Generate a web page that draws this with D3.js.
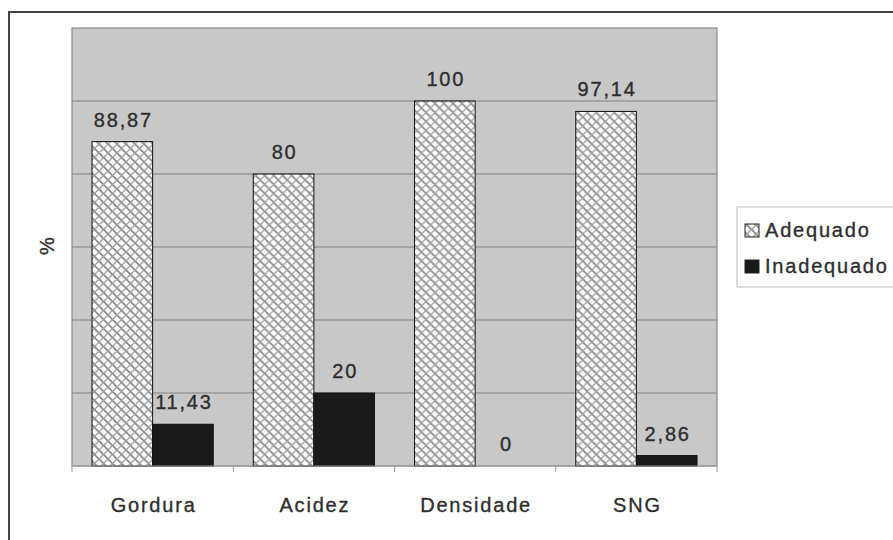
<!DOCTYPE html>
<html><head><meta charset="utf-8">
<script src="https://cdn.jsdelivr.net/npm/d3@7"></script>
<style>body{margin:0;background:#fff}svg{display:block}text{font-family:"Liberation Sans",Arial,sans-serif;fill:#2e2e2e;stroke:#2e2e2e;stroke-width:0.35}</style>
</head><body>
<svg id="c" width="893" height="540"></svg>
<script>
const categories = ["Gordura","Acidez","Densidade","SNG"];
const seriesNames = ["Adequado","Inadequado"];
const adequado = [88.87, 80, 100, 97.14];
const inadequado = [11.43, 20, 0, 2.86];
const valueLabels = [["88,87","80","100","97,14"],["11,43","20","0","2,86"]];
const yTicks = [0,20,40,60,80,100,120];

const svg = d3.select("#c");
const defs = svg.append("defs");
const pat = defs.append("pattern").attr("id","hatch").attr("patternUnits","userSpaceOnUse")
  .attr("width",9).attr("height",9);
pat.append("rect").attr("width",9).attr("height",9).attr("fill","#fdfdfd");
pat.append("path").attr("d","M-2,-2 L11,11 M-2,7 L2,11 M7,-2 L11,2").attr("stroke","#8c8c8c").attr("stroke-width",1.8);
pat.append("path").attr("d","M-1,10 L10,-1 M-1,1 L1,-1 M8,10 L10,8").attr("stroke","#a0a0a0").attr("stroke-width",1.3);

// outer frame
svg.append("path").attr("d","M9,540 L9,12 L893,12").attr("fill","none").attr("stroke","#444").attr("stroke-width",2);

const L=72, R=717, T=28, B=466;
const x0 = d3.scaleBand().domain(categories).range([L,R]).padding(0);
const x1 = d3.scaleBand().domain(seriesNames).range([20, x0.bandwidth()-20]).padding(0);
const y = d3.scaleLinear().domain([0,120]).range([B,T]);

svg.append("rect").attr("x",L).attr("y",T).attr("width",R-L).attr("height",B-T).attr("fill","#c8c8c8");
svg.append("g").selectAll("line").data(yTicks.filter(d=>d>0&&d<120)).join("line")
  .attr("x1",L).attr("x2",R).attr("y1",d=>y(d)).attr("y2",d=>y(d)).attr("stroke","#808080").attr("stroke-width",1);
svg.append("rect").attr("x",L).attr("y",T).attr("width",R-L).attr("height",B-T).attr("fill","none").attr("stroke","#8a8a8a").attr("stroke-width",1.2);

const data = categories.map((c,i)=>({c, vals:[adequado[i], inadequado[i]]}));
const g = svg.append("g").selectAll("g").data(data).join("g").attr("transform",d=>`translate(${x0(d.c)},0)`);
g.selectAll("rect").data(d=>d.vals.map((v,j)=>({s:seriesNames[j],v}))).join("rect")
  .attr("x",d=>x1(d.s)).attr("width",x1.bandwidth())
  .attr("y",d=>y(d.v)).attr("height",d=>B-y(d.v))
  .attr("fill",d=>d.s==="Adequado"?"url(#hatch)":"#1a1a1a")
  .attr("stroke",d=>d.v>0?"#111":"none").attr("stroke-width",1);
g.selectAll("text").data((d,i)=>d.vals.map((v,j)=>({s:seriesNames[j],v,lab:valueLabels[j][i]}))).join("text")
  .attr("x",d=>x1(d.s)+x1.bandwidth()/2+1).attr("y",d=>y(d.v)-15)
  .attr("text-anchor","middle").attr("font-size",20).attr("letter-spacing",1.8)
  .text(d=>d.lab);

// x axis
const xa = svg.append("g").attr("transform",`translate(0,${B})`);
xa.append("line").attr("x1",L).attr("x2",R).attr("stroke","#999");
xa.selectAll("line.t").data(categories.map(c=>x0(c)).concat([R])).join("line").attr("class","t")
  .attr("x1",d=>d).attr("x2",d=>d).attr("y1",0).attr("y2",6).attr("stroke","#999");
xa.selectAll("text").data(categories).join("text")
  .attr("x",d=>x0(d)+x0.bandwidth()/2+1).attr("y",46).attr("text-anchor","middle")
  .attr("font-size",20).attr("letter-spacing",1.8).text(d=>d);

svg.append("text").attr("transform","translate(54,246) rotate(-90)").attr("text-anchor","middle")
  .attr("font-size",20).text("%");

// legend
const lg = svg.append("g");
lg.append("rect").attr("x",737).attr("y",207).attr("width",170).attr("height",80).attr("fill","#fff").attr("stroke","#bbb");
seriesNames.forEach((s,i)=>{
  const yy = 224 + i*36;
  lg.append("rect").attr("x",745).attr("y",yy).attr("width",14).attr("height",13)
    .attr("fill",i===0?"url(#hatch)":"#1a1a1a").attr("stroke","#222");
  lg.append("text").attr("x",765).attr("y",yy+13).attr("font-size",20).attr("letter-spacing",1.8).text(s);
});
</script>
</body></html>
